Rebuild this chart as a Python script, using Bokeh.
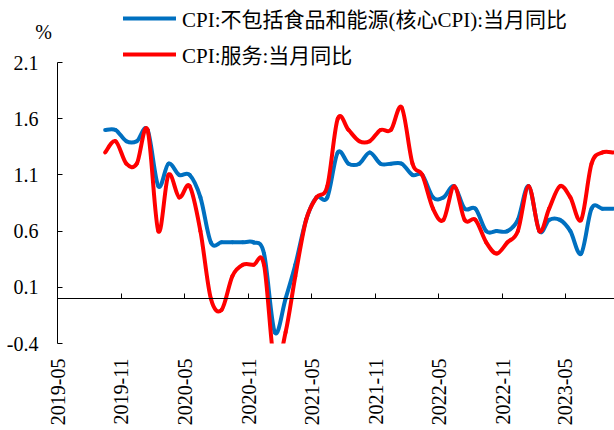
import math
import numpy as np
import pandas as pd
from bokeh.plotting import figure
from bokeh.models import (Range1d, FixedTicker, LinearAxis, DatetimeAxis, Legend,
                          LegendItem, Label, ColumnDataSource, BoxAnnotation)
from bokeh.embed import file_html
from bokeh.resources import INLINE

# ---------------- data ----------------
months = [str(p) for p in pd.period_range("2019-09", "2023-09", freq="M")]
core_cpi = [1.5, 1.5, 1.4, 1.4,
            1.5, 1.0, 1.2, 1.1, 1.1, 0.9, 0.5, 0.5, 0.5, 0.5, 0.5, 0.4,
            -0.3, 0.0, 0.3, 0.7, 0.9, 0.9, 1.3, 1.2, 1.2, 1.3, 1.2, 1.2,
            1.2, 1.1, 1.1, 0.9, 0.9, 1.0, 0.8, 0.8, 0.6, 0.6, 0.6, 0.7,
            1.0, 0.6, 0.7, 0.7, 0.6, 0.4, 0.8, 0.8, 0.8]
service_cpi = [1.3, 1.4, 1.2, 1.2,
               1.5, 0.6, 1.1, 0.9, 1.0, 0.6, 0.0, -0.1, 0.2, 0.3, 0.3, 0.3,
               -0.6, -0.3, 0.2, 0.7, 0.9, 1.0, 1.6, 1.5, 1.4, 1.4, 1.5, 1.5,
               1.7, 1.2, 1.1, 0.8, 0.7, 1.0, 0.7, 0.7, 0.5, 0.4, 0.5, 0.6,
               1.0, 0.6, 0.8, 1.0, 0.9, 0.7, 1.2, 1.3, 1.3]
series_names = ["CPI:不包括食品和能源(核心CPI):当月同比", "CPI:服务:当月同比"]
unit_label = "%"
x_tick_labels = ["2019-05", "2019-11", "2020-05", "2020-11", "2021-05",
                 "2021-11", "2022-05", "2022-11", "2023-05"]
y_ticks = [-0.4, 0.1, 0.6, 1.1, 1.6, 2.1]
axis_start = "2019-05-01"          # where the y axis sits
view_start, view_end = "2018-11-18", "2023-09-19"
y_view_top, y_view_bottom = 2.652, -1.174   # room for legend / tick labels

# ---------------- helpers ----------------
def ms(ts):
    return pd.Timestamp(ts).value / 1e6

xs = np.array([ms(pd.Period(m).start_time + pd.Timedelta(days=14)) for m in months])

def smooth_source(x, y):
    y = np.asarray(y, dtype=float)
    n = len(x)
    xp = np.concatenate([[x[0]], x, [x[-1]]])
    yp = np.concatenate([[y[0]], y, [y[-1]]])
    d = dict(x0=[], y0=[], x1=[], y1=[], cx0=[], cy0=[], cx1=[], cy1=[])
    for i in range(n - 1):
        j = i + 1
        d["x0"].append(xp[j]); d["y0"].append(yp[j])
        d["x1"].append(xp[j + 1]); d["y1"].append(yp[j + 1])
        d["cx0"].append(xp[j] + (xp[j + 1] - xp[j - 1]) / 6)
        d["cy0"].append(yp[j] + (yp[j + 1] - yp[j - 1]) / 6)
        d["cx1"].append(xp[j + 1] - (xp[j + 2] - xp[j]) / 6)
        d["cy1"].append(yp[j + 1] - (yp[j + 2] - yp[j]) / 6)
    return ColumnDataSource(d)

FONT = "Liberation Serif"
LEG_FONT = "Liberation Serif, Noto Sans CJK SC"

W, H = 614, 430
p = figure(width=W, height=H, output_backend="svg", toolbar_location=None,
           x_axis_type=None, y_axis_type=None,
           x_range=Range1d(ms(view_start), ms(view_end)),
           y_range=Range1d(y_view_bottom, y_view_top),
           min_border_left=0, min_border_right=0, min_border_top=0,
           min_border_bottom=0)
p.outline_line_color = None
p.background_fill_color = "white"
p.border_fill_color = "white"

colors = ["#0070C0", "#FF0000"]
renderers = []
for vals, c in zip([core_cpi, service_cpi], colors):
    src = smooth_source(xs, vals)
    r = p.bezier(x0="x0", y0="y0", x1="x1", y1="y1", cx0="cx0", cy0="cy0",
                 cx1="cx1", cy1="cy1", source=src, line_color=c, line_width=4,
                 line_cap="round")
    renderers.append(r)

# plot area ends at the lowest y tick: hide anything drawn below it
cover = BoxAnnotation(top=y_ticks[0], fill_color="white", fill_alpha=1.0,
                      line_color=None, level="glyph")
p.add_layout(cover)

xt = [ms(t + "-01") for t in x_tick_labels]

# bottom tick labels, hung from the lowest y value
xa = DatetimeAxis(ticker=FixedTicker(ticks=xt), fixed_location=y_ticks[0])
xa.major_label_overrides = {t: l for t, l in zip(xt, x_tick_labels)}
xa.axis_line_color = None
xa.major_tick_line_color = None
xa.major_tick_in = 0
xa.major_tick_out = 0
xa.minor_tick_line_color = None
xa.major_label_orientation = math.pi / 2
xa.major_label_text_font = FONT
xa.major_label_text_font_size = "20px"
xa.major_label_text_color = "black"
xa.major_label_standoff = 15
p.add_layout(xa, "below")

# zero line with ticks
za = LinearAxis(fixed_location=0, ticker=FixedTicker(ticks=xt),
                bounds=(ms(axis_start), ms(view_end)))
za.major_label_text_font_size = "0px"
za.major_label_text_color = None
za.axis_line_color = "black"
za.axis_line_width = 1
za.major_tick_in = 5
za.major_tick_out = 0
za.major_tick_line_color = "black"
za.minor_tick_line_color = None
za.major_label_standoff = 0
p.add_layout(za, "below")

# y axis placed at the chart's start
ya = LinearAxis(fixed_location=ms(axis_start), ticker=FixedTicker(ticks=y_ticks),
                bounds=(y_ticks[0], y_ticks[-1]))
ya.major_label_overrides = {t: f"{t:.1f}" for t in y_ticks}
ya.axis_line_color = "black"
ya.major_tick_in = 5
ya.major_tick_out = 0
ya.major_tick_line_color = "black"
ya.minor_tick_line_color = None
ya.major_label_text_font = FONT
ya.major_label_text_font_size = "20px"
ya.major_label_text_color = "black"
ya.major_label_standoff = 19
p.add_layout(ya, "left")

legend = Legend(items=[LegendItem(label=n, renderers=[r]) for n, r in zip(series_names, renderers)],
                location=(123, 361), orientation="vertical",
                label_text_font=LEG_FONT, label_text_font_size="21px",
                label_text_color="black", glyph_width=53, glyph_height=20,
                label_height=20, label_standoff=6, spacing=6, padding=0, margin=0,
                border_line_color=None, background_fill_alpha=0)
p.add_layout(legend, "center")

p.add_layout(Label(x=43, y=399, x_units="screen", y_units="screen", text=unit_label,
                   text_font=FONT, text_font_size="20px", text_align="center",
                   text_baseline="middle", text_color="black"))

open("out.html", "w").write(file_html(p, INLINE))
